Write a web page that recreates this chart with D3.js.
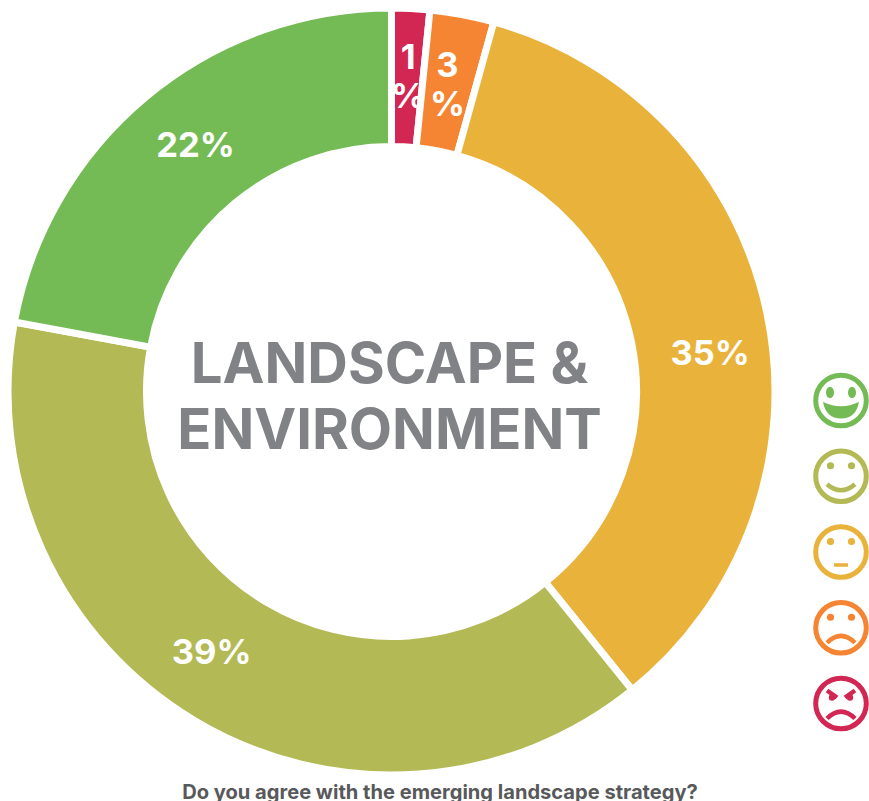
<!DOCTYPE html>
<html>
<head>
<meta charset="utf-8">
<script src="https://cdn.jsdelivr.net/npm/d3@7"></script>
<style>
  html, body { margin: 0; padding: 0; background: #fff; overflow: hidden; }
  svg { display: block; }
  text { font-family: Inter, Roboto, sans-serif; }
</style>
</head>
<body>
<svg width="869" height="801"></svg>
<script>
const categories = ['Strongly disagree', 'Disagree', 'Neutral', 'Agree', 'Strongly agree'];
const values = [1.6, 2.7, 34.9, 38.7, 22.1];
const labels = [['1', '%'], ['3', '%'], ['35%'], ['39%'], ['22%']];
const colors = ['#d12752', '#f58533', '#e9b23b', '#b3b954', '#75bb55'];
const titleLines = ['LANDSCAPE &', 'ENVIRONMENT'];
const question = 'Do you agree with the emerging landscape strategy?';
// top to bottom in the legend
const legendOrder = ['Strongly agree', 'Agree', 'Neutral', 'Disagree', 'Strongly disagree'];

const svg = d3.select('svg');
const cx = 391.5;
const cy = 391.5;

const color = d3.scaleOrdinal().domain(categories).range(colors);

const pie = d3.pie().sort(null).value((d) => d.value);
// radii include half of the white stroke
const arc = d3.arc().innerRadius(245).outerRadius(383.5);

const rows = categories.map((name, i) => ({name, value: values[i], label: labels[i]}));
const slices = pie(rows);

const chart = svg.append('g').attr('transform', `translate(${cx},${cy})`);

chart.selectAll('path')
    .data(slices)
    .enter().append('path')
    .attr('d', arc)
    .attr('fill', (d) => color(d.data.name))
    .attr('stroke', '#fff')
    .attr('stroke-width', 7);

// the labels sit by hand away from the centroid, like in the original
const nudge = [[1, -21], [-2, -18], [11, 25], [-19, -9], [5, -5]];

const label = chart.selectAll('text.value')
    .data(slices)
    .enter().append('text')
    .attr('class', 'value')
    .attr('transform', (d, i) => {
        const [x, y] = arc.centroid(d);
        return `translate(${x + nudge[i][0]},${y + nudge[i][1]})`;
    })
    .attr('text-anchor', 'middle')
    .attr('fill', '#fff')
    .attr('font-size', 34.5)
    .attr('font-weight', 700);

label.selectAll('tspan')
    .data((d) => d.data.label)
    .enter().append('tspan')
    .attr('x', 0)
    .attr('dy', (d, i) => (i === 0 ? 12 : 39))
    .text((d) => d);

chart.selectAll('text.title')
    .data(titleLines)
    .enter().append('text')
    .attr('class', 'title')
    .attr('x', -2)
    .attr('y', (d, i) => -9 + i * 66)
    .attr('text-anchor', 'middle')
    .attr('fill', '#808285')
    .attr('font-size', 56.2)
    .attr('font-weight', 700)
    .text((d) => d);

svg.append('text')
    .attr('x', 440)
    .attr('y', 799)
    .attr('text-anchor', 'middle')
    .attr('fill', '#58595b')
    .attr('font-size', 20.1)
    .attr('font-weight', 700)
    .text(question);

// legend faces
const legendY = d3.scalePoint().domain(legendOrder).range([400.5, 703.5]);

const face = svg.selectAll('g.face')
    .data(legendOrder)
    .enter().append('g')
    .attr('class', 'face')
    .attr('transform', (d) => `translate(841,${legendY(d)})`);

face.append('circle')
    .attr('r', 25.3)
    .attr('fill', 'none')
    .attr('stroke', (d) => color(d))
    .attr('stroke-width', 5);

face.each(function (d) {
    const g = d3.select(this);
    const c = color(d);
    const round = (p, w = 4.5) => g.append('path').attr('d', p).attr('fill', 'none')
        .attr('stroke', c).attr('stroke-width', w);

    if (d === 'Strongly agree') {
        g.selectAll('ellipse').data([-11, 11]).enter().append('ellipse')
            .attr('cx', (x) => x).attr('cy', -8).attr('rx', 4).attr('ry', 5.8).attr('fill', c);
        g.append('path').attr('d', 'M-18,1.5 Q0,10 18,1.5 Q15,18 0,18 Q-15,18 -18,1.5Z').attr('fill', c);
        return;
    }

    if (d === 'Strongly disagree') {
        round('M-14,-13 L-4,-6');
        round('M14,-13 L4,-6');
        g.selectAll('circle.eye').data([-9, 9]).enter().append('circle')
            .attr('class', 'eye').attr('cx', (x) => x).attr('cy', -6).attr('r', 3.2).attr('fill', c);
        round('M-14,15 Q0,1 14,15');
        return;
    }

    g.selectAll('circle.eye').data([-10.5, 10.5]).enter().append('circle')
        .attr('class', 'eye').attr('cx', (x) => x).attr('cy', -10.5).attr('r', 3.6).attr('fill', c);

    if (d === 'Agree') round('M-14,8 Q0,20 14,8');
    if (d === 'Neutral') round('M-7,13 L7,13', 3.5);
    if (d === 'Disagree') round('M-14,15 Q0,1 14,15');
});
</script>
</body>
</html>
